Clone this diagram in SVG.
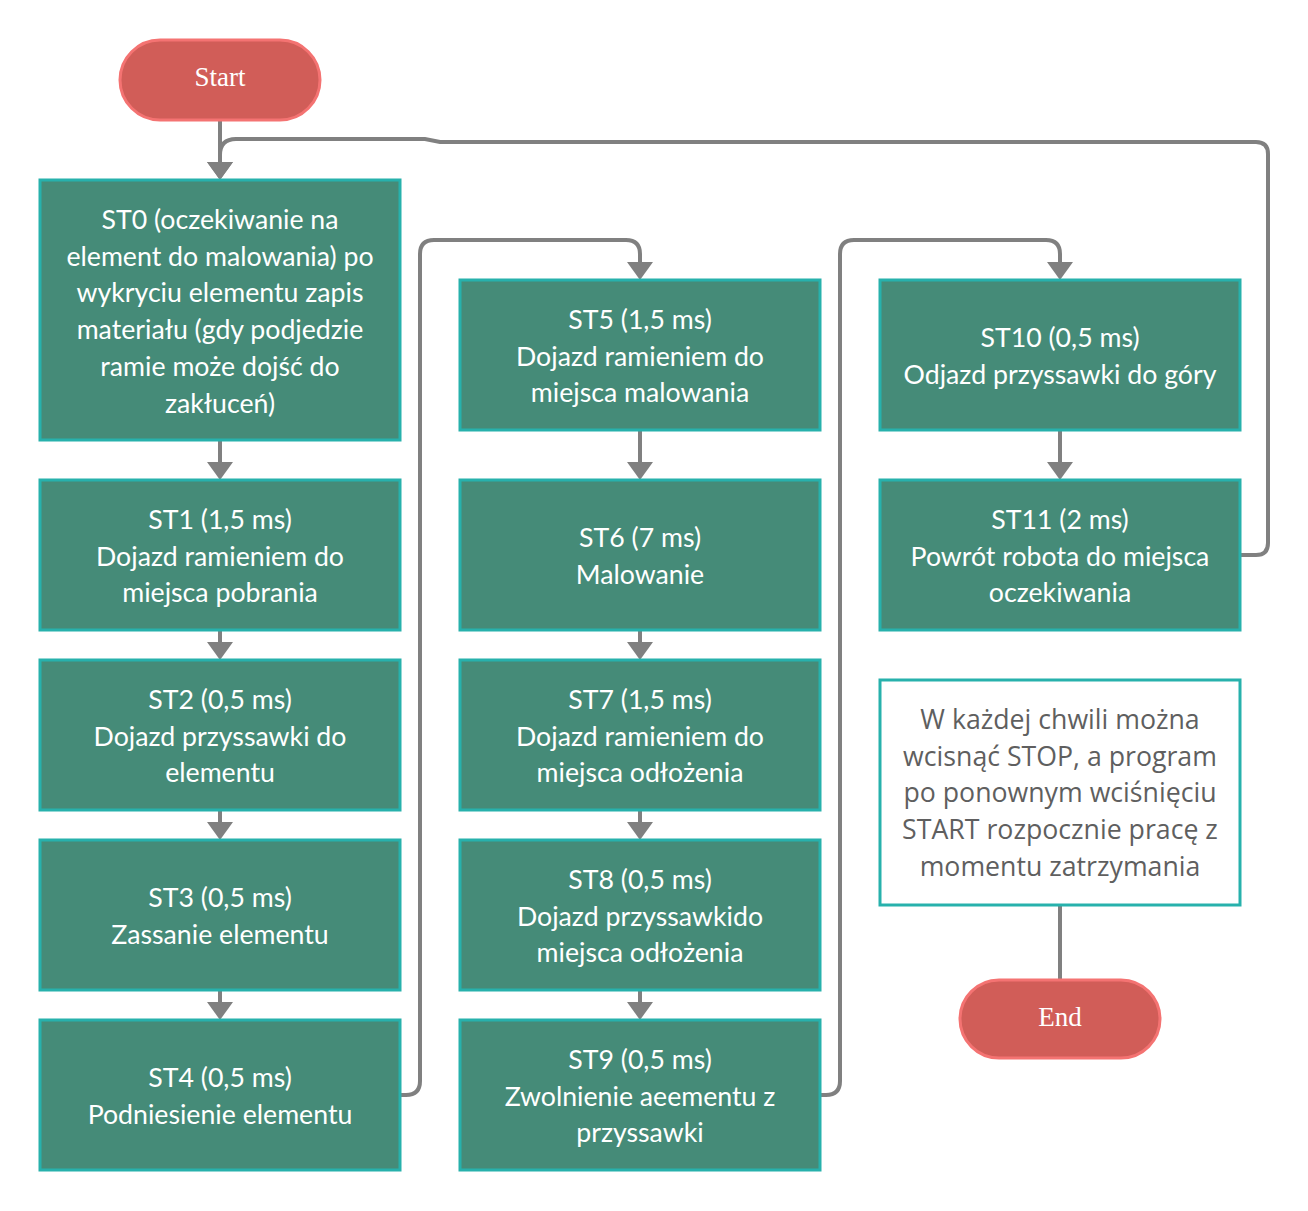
<svg xmlns="http://www.w3.org/2000/svg" width="1308" height="1211" viewBox="0 0 1308 1211">
<defs>
<style>
.box{fill:#458b78;stroke:#27b1ac;stroke-width:3}
.term{fill:#d15d58;stroke:#f47372;stroke-width:3}
.note{fill:#ffffff;stroke:#27b1ac;stroke-width:3}
.t{font-family:Lato,"Noto Sans",sans-serif;font-size:26.7px;fill:#ffffff;text-anchor:middle}
.nt{font-family:"Open Sans","Noto Sans",sans-serif;font-size:26.7px;fill:#5f5f5f;text-anchor:middle}
.tt{font-family:"Liberation Serif","DejaVu Serif",serif;font-size:27px;fill:#ffffff;text-anchor:middle}
.c{fill:none;stroke:#808080;stroke-width:4}
</style>
<marker id="arr" markerUnits="userSpaceOnUse" markerWidth="18" markerHeight="26" refX="8" refY="13" orient="auto">
<path d="M0,0 L18,13 L0,26 z" fill="#808080"/>
</marker>
</defs>
<rect width="1308" height="1211" fill="#ffffff"/>
<g id="connectors">
<path class="c" d="M220,120 V170" marker-end="url(#arr)"/>
<path class="c" d="M1240,555 H1256 Q1268,555 1268,543 V154 Q1268,142 1256,142 H440 L425,139 H236 Q220,139 220,155 V170" marker-end="url(#arr)"/>
<path class="c" d="M220,440 V470" marker-end="url(#arr)"/>
<path class="c" d="M220,630 V650" marker-end="url(#arr)"/>
<path class="c" d="M220,810 V830" marker-end="url(#arr)"/>
<path class="c" d="M220,990 V1010" marker-end="url(#arr)"/>
<path class="c" d="M400,1095 H406 Q420,1095 420,1081 V254 Q420,240 434,240 H626 Q640,240 640,254 V270" marker-end="url(#arr)"/>
<path class="c" d="M640,430 V470" marker-end="url(#arr)"/>
<path class="c" d="M640,630 V650" marker-end="url(#arr)"/>
<path class="c" d="M640,810 V830" marker-end="url(#arr)"/>
<path class="c" d="M640,990 V1010" marker-end="url(#arr)"/>
<path class="c" d="M820,1095 H826 Q840,1095 840,1081 V254 Q840,240 854,240 H1046 Q1060,240 1060,254 V270" marker-end="url(#arr)"/>
<path class="c" d="M1060,430 V470" marker-end="url(#arr)"/>
<path class="c" d="M1060,905 V980"/>
</g>
<g id="start"><rect class="term" x="120" y="40" width="200" height="80" rx="40"/><text class="tt" x="220" y="86">Start</text></g>
<g id="st0"><rect class="box" x="40" y="180" width="360" height="260"/>
<text class="t" x="220" y="229">ST0 (oczekiwanie na</text>
<text class="t" x="220" y="266">element do malowania) po</text>
<text class="t" x="220" y="302">wykryciu elementu zapis</text>
<text class="t" x="220" y="339">materiału (gdy podjedzie</text>
<text class="t" x="220" y="376">ramie może dojść do</text>
<text class="t" x="220" y="413">zakłuceń)</text></g>
<g id="st1"><rect class="box" x="40" y="480" width="360" height="150"/>
<text class="t" x="220" y="529">ST1 (1,5 ms)</text><text class="t" x="220" y="566">Dojazd ramieniem do</text><text class="t" x="220" y="602">miejsca pobrania</text></g>
<g id="st2"><rect class="box" x="40" y="660" width="360" height="150"/>
<text class="t" x="220" y="709">ST2 (0,5 ms)</text><text class="t" x="220" y="746">Dojazd przyssawki do</text><text class="t" x="220" y="782">elementu</text></g>
<g id="st3"><rect class="box" x="40" y="840" width="360" height="150"/>
<text class="t" x="220" y="907">ST3 (0,5 ms)</text><text class="t" x="220" y="944">Zassanie elementu</text></g>
<g id="st4"><rect class="box" x="40" y="1020" width="360" height="150"/>
<text class="t" x="220" y="1087">ST4 (0,5 ms)</text><text class="t" x="220" y="1124">Podniesienie elementu</text></g>
<g id="st5"><rect class="box" x="460" y="280" width="360" height="150"/>
<text class="t" x="640" y="329">ST5 (1,5 ms)</text><text class="t" x="640" y="366">Dojazd ramieniem do</text><text class="t" x="640" y="402">miejsca malowania</text></g>
<g id="st6"><rect class="box" x="460" y="480" width="360" height="150"/>
<text class="t" x="640" y="547">ST6 (7 ms)</text><text class="t" x="640" y="584">Malowanie</text></g>
<g id="st7"><rect class="box" x="460" y="660" width="360" height="150"/>
<text class="t" x="640" y="709">ST7 (1,5 ms)</text><text class="t" x="640" y="746">Dojazd ramieniem do</text><text class="t" x="640" y="782">miejsca odłożenia</text></g>
<g id="st8"><rect class="box" x="460" y="840" width="360" height="150"/>
<text class="t" x="640" y="889">ST8 (0,5 ms)</text><text class="t" x="640" y="926">Dojazd przyssawkido</text><text class="t" x="640" y="962">miejsca odłożenia</text></g>
<g id="st9"><rect class="box" x="460" y="1020" width="360" height="150"/>
<text class="t" x="640" y="1069">ST9 (0,5 ms)</text><text class="t" x="640" y="1106">Zwolnienie aeementu z</text><text class="t" x="640" y="1142">przyssawki</text></g>
<g id="st10"><rect class="box" x="880" y="280" width="360" height="150"/>
<text class="t" x="1060" y="347">ST10 (0,5 ms)</text><text class="t" x="1060" y="384">Odjazd przyssawki do góry</text></g>
<g id="st11"><rect class="box" x="880" y="480" width="360" height="150"/>
<text class="t" x="1060" y="529">ST11 (2 ms)</text><text class="t" x="1060" y="566">Powrót robota do miejsca</text><text class="t" x="1060" y="602">oczekiwania</text></g>
<g id="note"><rect class="note" x="880" y="680" width="360" height="225"/>
<text class="nt" x="1060" y="729">W każdej chwili można</text>
<text class="nt" x="1060" y="766">wcisnąć STOP, a program</text>
<text class="nt" x="1060" y="802">po ponownym wciśnięciu</text>
<text class="nt" x="1060" y="839">START rozpocznie pracę z</text>
<text class="nt" x="1060" y="876">momentu zatrzymania</text></g>
<g id="end"><rect class="term" x="960" y="980" width="200" height="78" rx="39"/><text class="tt" x="1060" y="1026">End</text></g>
</svg>
